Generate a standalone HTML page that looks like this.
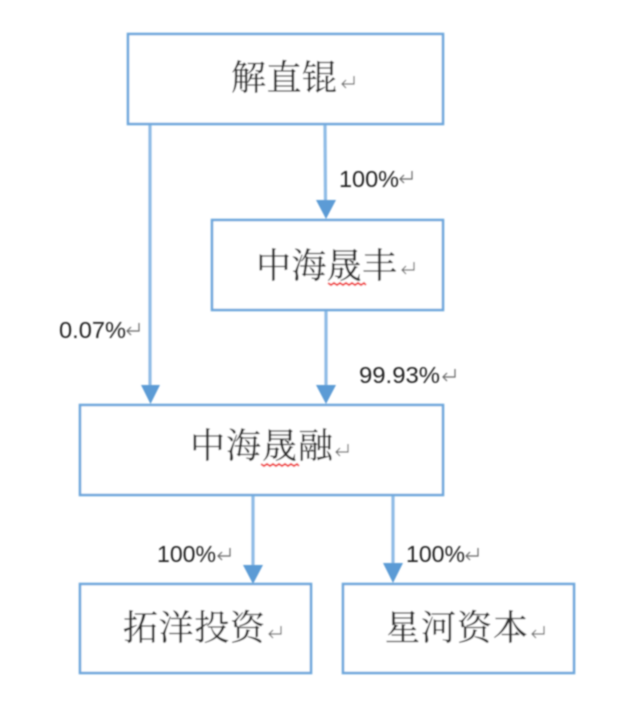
<!DOCTYPE html>
<html lang="zh">
<head>
<meta charset="utf-8">
<style>
html,body{margin:0;padding:0;background:#fff;width:621px;height:710px;overflow:hidden}
svg{display:block}
.cn{font-family:"Liberation Serif","Noto Serif CJK SC",serif;font-size:35px;fill:#2e2e2e;stroke:#2e2e2e;stroke-width:.25}
.pc{font-family:"Liberation Sans","Noto Sans CJK SC",sans-serif;font-size:23px;fill:#222}
.b{fill:#fff;stroke:#6fa8dc;stroke-width:2.6}
.l{stroke:#8fbce6;stroke-width:3.2;fill:none}
.h{fill:#5b9bd5}
.r{fill:none;stroke:#666;stroke-width:1.2}
.s{fill:none;stroke:#f02020;stroke-width:1.8}
</style>
</head>
<body>
<svg width="621" height="710" viewBox="0 0 621 710" xmlns="http://www.w3.org/2000/svg">
<defs><filter id="f" x="-5%" y="-5%" width="110%" height="110%"><feGaussianBlur stdDeviation="0.7"/></filter></defs>
<rect width="621" height="710" fill="#fff"/>
<g filter="url(#f)">
  <line class="l" x1="150" y1="124" x2="150" y2="390"/>
  <line class="l" x1="325" y1="124" x2="325.500" y2="202"/>
  <line class="l" x1="326" y1="310" x2="326" y2="390"/>
  <line class="l" x1="253" y1="495" x2="253" y2="568"/>
  <line class="l" x1="393" y1="495" x2="393" y2="566"/>

  <polygon class="h" points="316,200 336,200 326,219"/>
  <polygon class="h" points="141,385 160,385 150.500,404"/>
  <polygon class="h" points="316,385 336,385 326,404"/>
  <polygon class="h" points="243,565 263,565 253,584"/>
  <polygon class="h" points="383,563 403,563 393,583"/>

  <rect class="b" x="128" y="34" width="315" height="90"/>
  <rect class="b" x="212" y="220" width="231" height="90"/>
  <rect class="b" x="80" y="405" width="363" height="90"/>
  <rect class="b" x="80" y="584" width="231" height="89"/>
  <rect class="b" x="343" y="584" width="231" height="89"/>

  <text class="cn" x="231" y="90" textLength="106" lengthAdjust="spacing">解直锟</text>
  <text class="cn" x="256" y="278" textLength="141" lengthAdjust="spacing">中海晟丰</text>
  <text class="cn" x="190" y="458" textLength="143" lengthAdjust="spacing">中海晟融</text>
  <text class="cn" x="123" y="640" textLength="142" lengthAdjust="spacing">拓洋投资</text>
  <text class="cn" x="385" y="640" textLength="143" lengthAdjust="spacing">星河资本</text>

  <text class="pc" x="339" y="187" textLength="60" lengthAdjust="spacingAndGlyphs">100%</text>
  <text class="pc" x="59" y="338" textLength="67" lengthAdjust="spacingAndGlyphs">0.07%</text>
  <text class="pc" x="359" y="383" textLength="81" lengthAdjust="spacingAndGlyphs">99.93%</text>
  <text class="pc" x="157" y="562" textLength="59" lengthAdjust="spacingAndGlyphs">100%</text>
  <text class="pc" x="406" y="562" textLength="59" lengthAdjust="spacingAndGlyphs">100%</text>

  <path class="r" d="M354,76V84H342M346,80L342,84L346,88"/>
  <path class="r" d="M412,171V179H400M404,175L400,179L404,183"/>
  <path class="r" d="M414,262V270H402M406,266L402,270L406,274"/>
  <path class="r" d="M139,323V331H127M131,327L127,331L131,335"/>
  <path class="r" d="M455,369V377H443M447,373L443,377L447,381"/>
  <path class="r" d="M348,444V452H336M340,448L336,452L340,456"/>
  <path class="r" d="M230,548V556H218M222,552L218,556L222,560"/>
  <path class="r" d="M478,548V556H466M470,552L466,556L470,560"/>
  <path class="r" d="M281,626V634H269M273,630L269,634L273,638"/>
  <path class="r" d="M544,626V634H532M536,630L532,634L536,638"/>

  <path class="s" d="M328,283l3,2 3,-2 3,2 3,-2 3,2 3,-2 3,2 3,-2 3,2 3,-2 3,2 3,-2 2,2"/>
  <path class="s" d="M261,464l3,2 3,-2 3,2 3,-2 3,2 3,-2 3,2 3,-2 3,2 3,-2 3,2 3,-2 2,2"/>
</g>
</svg>
</body>
</html>
